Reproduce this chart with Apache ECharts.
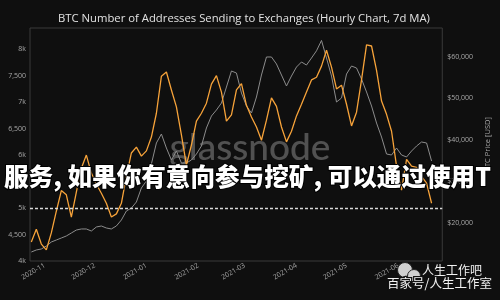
<!DOCTYPE html>
<html><head><meta charset="utf-8">
<script src="https://cdn.jsdelivr.net/npm/echarts@6/dist/echarts.min.js"></script>
<style>html,body{margin:0;padding:0;background:#0f0f0f;}#c{width:500px;height:300px;}</style>
</head><body><div id="c"></div>
<script>
const chartTitle = 'BTC Number of Addresses Sending to Exchanges (Hourly Chart, 7d MA)';
const startDate = '2020-10-24';
const stepDays = 3;
// Number of addresses sending to exchanges (7d MA), left axis
const addresses = [
  4360,4600,4320,4210,4530,4940,5330,5250,4830,5300,
  5750,6000,5660,5450,5280,5090,4830,4890,5090,5600,
  6040,6150,5980,6080,6340,6790,7490,7570,7230,6910,
  6380,5810,6190,6640,6790,6980,7340,7500,7190,6640,
  6760,7230,7350,6940,6720,6530,6280,6660,7080,6920,
  6530,6250,6450,6740,6960,7190,7420,7470,7680,7980,
  7660,7250,7320,6960,6550,6810,7420,8080,8060,7600,
  7020,6770,6450,5790,5340,5920,5790,5770,5600,5470,
  5090
];
// BTC price (USD), right axis
const price = [
  12920,13410,13650,14370,15340,15820,16300,16790,17510,18230,
  18480,18480,17990,18960,19200,18720,18480,19200,20650,22820,
  23540,24990,28370,30060,34170,39240,41410,38030,35130,37300,
  34410,34410,35130,36580,38510,42860,45750,47200,48890,52750,
  56620,56130,51310,48170,46480,50340,55650,60000,60000,58310,
  55650,53000,55410,57580,58790,58060,59750,61500,64000,59750,
  55410,49130,50100,55890,57820,57340,54680,51550,48170,44060,
  40680,36580,36340,38030,36340,35860,37300,38510,39480,39240,
  34890
];
const referenceLevel = 5000;
const overlayText = '服务, 如果你有意向参与挖矿, 可以通过使用T';
const wmLine1 = '人生工作吧';
const wmLine2 = '百家号/人生工作室';

const DAY = 86400000;
const t0 = Date.parse(startDate + 'T00:00:00Z');
const dates = addresses.map((_, i) => t0 + i * stepDays * DAY);
const addrData = addresses.map((v, i) => [dates[i], v]);
const priceData = price.map((v, i) => [dates[i], v]);

const chart = echarts.init(document.getElementById('c'), null, {renderer: 'canvas'});
const axisFont = {color: '#a8a8a8', fontSize: 7, fontFamily: 'Open Sans'};
chart.setOption({
  backgroundColor: '#0f0f0f',
  animation: false,
  title: {
    text: chartTitle, left: 53, top: 8,
    textStyle: {color: '#e2e2e2', fontSize: 11.3, fontWeight: 'normal', fontFamily: 'Open Sans'}
  },
  grid: {left: 30, right: 48, top: 28, bottom: 39, show: true, borderColor: '#3a3a3a', borderWidth: 1, backgroundColor: 'transparent'},
  xAxis: {
    type: 'time',
    min: Date.UTC(2020, 9, 23, 5),
    max: Date.UTC(2021, 5, 27, 10),
    splitNumber: 8,
    axisLine: {show: false}, axisTick: {show: false}, splitLine: {show: false},
    axisLabel: Object.assign({rotate: 30, margin: 4, formatter: '{yyyy}-{MM}', hideOverlap: false}, axisFont)
  },
  yAxis: [{
    type: 'value', min: 4000, max: 8400, interval: 500,
    axisLine: {show: false}, axisTick: {show: false}, splitLine: {show: false},
    axisLabel: Object.assign({margin: 4, formatter: v => (v % 500 !== 0 ? '' : (v % 1000 === 0 ? (v / 1000) + 'k' : v.toLocaleString('en-US')))}, axisFont)
  }, {
    type: 'value', position: 'right', min: 10750, max: 67000, splitNumber: 5,
    name: 'BTC Price [USD]', nameLocation: 'middle', nameGap: 33,
    nameTextStyle: {color: '#a8a8a8', fontSize: 7.5, fontFamily: 'Open Sans'},
    axisLine: {show: false}, axisTick: {show: false}, splitLine: {show: false},
    axisLabel: Object.assign({margin: 5, showMinLabel: false, showMaxLabel: false, formatter: v => (v % 10000 !== 0 ? '' : '$' + v.toLocaleString('en-US'))}, axisFont)
  }],
  series: [{
    type: 'line', yAxisIndex: 1, data: priceData, showSymbol: false, z: 3,
    lineStyle: {color: '#8c8c8c', width: 1}
  }, {
    type: 'line', yAxisIndex: 0, data: addrData, showSymbol: false, z: 4,
    lineStyle: {color: '#f7a33a', width: 1.3},
    markLine: {
      silent: true, symbol: 'none', label: {show: false},
      lineStyle: {color: '#d8d8d8', type: [3, 2], width: 1.3},
      data: [{yAxis: referenceLevel}]
    }
  }],
  graphic: [
    {type: 'text', z: 1, x: 250, y: 148, style: {text: 'glassnode', align: 'center', verticalAlign: 'middle', fill: 'rgba(255,255,255,0.28)', font: '500 37px Lato'}},
    {type: 'text', z: 10, x: 4, y: 177, style: {text: overlayText, verticalAlign: 'middle', fill: '#ffffff', font: '900 24.6px "Noto Sans CJK SC"', stroke: '#000', lineWidth: 2}},
    {type: 'circle', z: 10, shape: {cx: 405, cy: 270, r: 7.5}, style: {fill: '#d0d0d0', stroke: '#222', lineWidth: 1}},
    {type: 'circle', z: 10, shape: {cx: 414, cy: 276, r: 6.5}, style: {fill: '#d0d0d0', stroke: '#222', lineWidth: 1}},
    {type: 'text', z: 11, x: 422, y: 270, style: {text: wmLine1, verticalAlign: 'middle', fill: '#f2f2f2', font: '12px "Noto Sans CJK SC"', stroke: '#111', lineWidth: 2}},
    {type: 'text', z: 11, x: 387, y: 283, style: {text: wmLine2, verticalAlign: 'middle', fill: '#f2f2f2', font: '12.5px "Noto Sans CJK SC"', stroke: '#111', lineWidth: 2.5}}
  ]
});
</script></body></html>
